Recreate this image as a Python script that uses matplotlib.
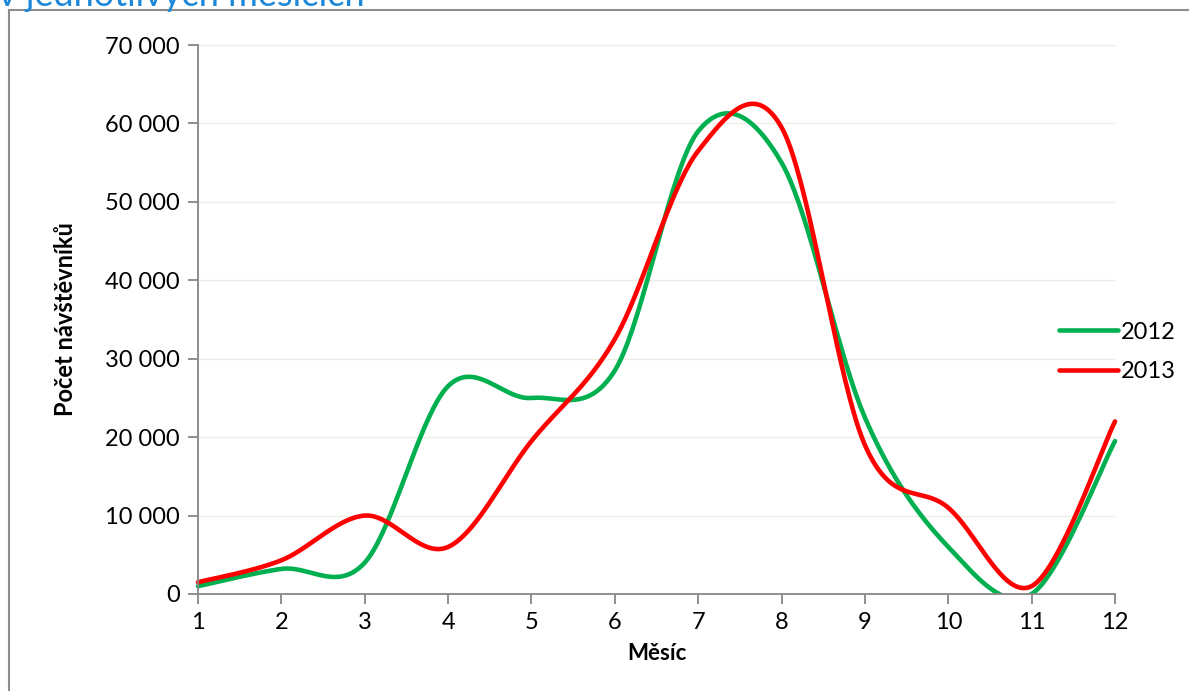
import numpy as np
import matplotlib
matplotlib.use("Agg")
import matplotlib.pyplot as plt
from matplotlib.ticker import FuncFormatter, MultipleLocator
from matplotlib.patches import Rectangle

plt.rcParams['font.family'] = ['Lato', 'DejaVu Sans']

# data
months = [1, 2, 3, 4, 5, 6, 7, 8, 9, 10, 11, 12]
visitors_2012 = [1000, 3200, 4000, 26500, 25000, 28500, 59000, 55000, 22500, 6000, 0, 19500]
visitors_2013 = [1500, 4300, 10000, 6000, 19500, 32500, 56500, 59500, 19000, 11000, 1000, 22000]
series_names = ['2012', '2013']
series_colors = ['#00B050', '#FF0000']

title_text = 'v jednotlivých měsících'
x_label = 'Měsíc'
y_label = 'Počet návštěvníků'


def excel_smooth(x, y, n=40):
    # bezier segments like the "smoothed line" option in Excel
    x = np.asarray(x, float)
    y = np.asarray(y, float)
    px = np.concatenate([[x[0]], x, [x[-1]]])
    py = np.concatenate([[y[0]], y, [y[-1]]])
    xs, ys = [], []
    t = np.linspace(0, 1, n)
    for i in range(len(x) - 1):
        p0 = np.array([px[i + 1], py[i + 1]])
        p3 = np.array([px[i + 2], py[i + 2]])
        c1 = p0 + (np.array([px[i + 2], py[i + 2]]) - np.array([px[i], py[i]])) / 6
        c2 = p3 - (np.array([px[i + 3], py[i + 3]]) - np.array([px[i + 1], py[i + 1]])) / 6
        b = ((1 - t) ** 3)[:, None] * p0 + (3 * (1 - t) ** 2 * t)[:, None] * c1 \
            + (3 * (1 - t) * t ** 2)[:, None] * c2 + (t ** 3)[:, None] * p3
        xs.append(b[:, 0])
        ys.append(b[:, 1])
    return np.concatenate(xs), np.concatenate(ys)


fig = plt.figure(figsize=(11.89, 6.91), dpi=100)
ax = fig.add_axes([198 / 1189, 1 - 594 / 691, (1115 - 198) / 1189, (594 - 45) / 691])

# clip at the x axis only, let line ends stick out sideways
clip = Rectangle((0.5, 0), 12, 90000, transform=ax.transData, visible=False)
ax.add_patch(clip)
for vals, name, col in zip([visitors_2012, visitors_2013], series_names, series_colors):
    sx, sy = excel_smooth(months, vals)
    ln, = ax.plot(sx, sy, color=col, lw=3.3, label=name, solid_capstyle='round')
    ln.set_clip_path(clip)

ax.set_xlim(1, 12)
ax.set_ylim(0, 70000)
ax.set_xticks(months)
ax.yaxis.set_major_locator(MultipleLocator(10000))
ax.yaxis.set_major_formatter(FuncFormatter(lambda v, p: f"{int(v):,}".replace(',', ' ')))
ax.grid(axis='y', color='#EDEDE3', lw=1)
ax.set_axisbelow(True)

for s in ['top', 'right']:
    ax.spines[s].set_visible(False)
for s in ['left', 'bottom']:
    ax.spines[s].set_color('#868686')
    ax.spines[s].set_linewidth(1.3)
ax.tick_params(axis='both', colors='#868686', width=1.3, length=7, labelsize=17,
               labelcolor='black', pad=6)

ax.set_xlabel(x_label, fontsize=16, fontweight='bold', labelpad=7)
ax.set_ylabel(y_label, fontsize=17, fontweight='bold', labelpad=20)

ax.legend(loc='center left', bbox_to_anchor=(1050 / 1189, 1 - 352 / 691),
          bbox_transform=fig.transFigure, frameon=False, fontsize=17,
          handlelength=2.5, handletextpad=0.1, labelspacing=0.8, borderaxespad=0)

# outer chart border (cropped on the right and bottom)
fig.patches.append(Rectangle((9 / 1189, -0.1), 1.2, 1.1 - 10 / 691, transform=fig.transFigure,
                             fill=False, edgecolor='#8C8C8C', lw=1.5))
fig.text(-0.002, 1 - 6 / 691, title_text, color='#1E88D8', fontsize=26,
         ha='left', va='baseline')

fig.savefig('out.png', dpi=100)
